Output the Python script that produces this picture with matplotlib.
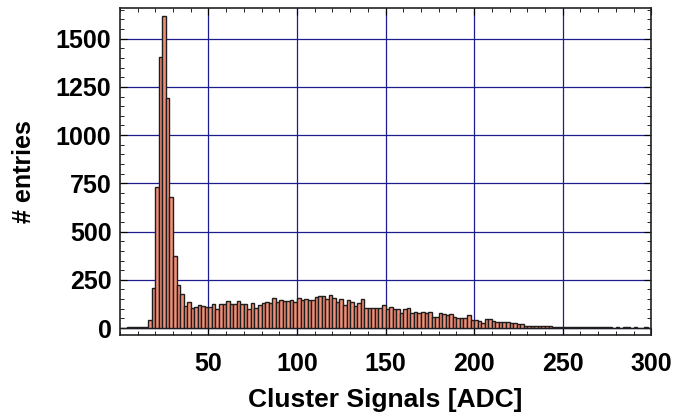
import numpy as np
import matplotlib.pyplot as plt
from matplotlib.ticker import MultipleLocator

plt.rcParams['font.family'] = ['Liberation Sans', 'DejaVu Sans']
plt.rcParams['font.weight'] = 'bold'

# histogram, bins of 2 ADC from 0 to 300
bin_edges = np.arange(0, 302, 2)
counts = [
    2, 2, 3, 6, 4, 3, 3, 4, 40, 205,            # 0-20
    733, 1405, 1620, 1190, 678, 371, 224, 176, 116, 134,  # 20-40
    103, 107, 117, 116, 107, 109, 122, 100, 124, 126,     # 40-60
    141, 122, 124, 140, 126, 124, 100, 129, 102, 117,     # 60-80
    128, 133, 129, 155, 136, 147, 141, 141, 145, 133,     # 80-100
    157, 145, 153, 147, 147, 159, 167, 166, 153, 169,     # 100-120
    157, 133, 150, 121, 145, 133, 116, 131, 148, 105,     # 120-140
    105, 105, 105, 105, 121, 100, 107, 97, 100, 76,       # 140-160
    98, 105, 76, 83, 79, 85, 76, 81, 57, 59,              # 160-180
    76, 71, 69, 74, 57, 53, 53, 50, 67, 43,               # 180-200
    43, 34, 28, 48, 47, 36, 33, 29, 29, 33,               # 200-220
    24, 28, 19, 21, 12, 10, 10, 12, 10, 12,               # 220-240
    9, 9, 7, 7, 7, 5, 4, 5, 4, 3,                         # 240-260
    4, 3, 5, 3, 4, 3, 3, 4, 3, 2,                         # 260-280
    3, 2, 3, 3, 2, 3, 2, 2, 3, 2,                         # 280-300
]
xlabel = "Cluster Signals [ADC]"
ylabel = "# entries"

fig = plt.figure(figsize=(6.77, 4.12), dpi=100)
ax = fig.add_axes([0.177, 0.187, 0.785, 0.794])

ax.bar(bin_edges[:-1], counts, width=2, align='edge',
       color='#f28f76', edgecolor='#1e1e1e', linewidth=1.0, zorder=2)

ax.set_xlim(0, 300)
ax.set_ylim(-36, 1660)
ax.xaxis.set_major_locator(MultipleLocator(50))
ax.xaxis.set_minor_locator(MultipleLocator(10))
ax.yaxis.set_major_locator(MultipleLocator(250))
ax.yaxis.set_minor_locator(MultipleLocator(50))
ax.set_xticks([50, 100, 150, 200, 250, 300])

ax.grid(True, which='major', color='#1c1c8c', linewidth=0.9, zorder=1)
ax.set_axisbelow(True)
ax.tick_params(which='both', direction='in', top=True, right=True, labelsize=18)
ax.tick_params(which='major', length=5)
ax.tick_params(which='minor', length=3)
ax.tick_params(axis='x', pad=12)
ax.tick_params(axis='y', pad=6)
for s in ax.spines.values():
    s.set_linewidth(1.2)
    s.set_color('#222222')

ax.set_xlabel(xlabel, fontsize=19, fontweight='bold', labelpad=9)
ax.set_ylabel(ylabel, fontsize=18, fontweight='bold', labelpad=14)

fig.savefig("out.png", dpi=100)
